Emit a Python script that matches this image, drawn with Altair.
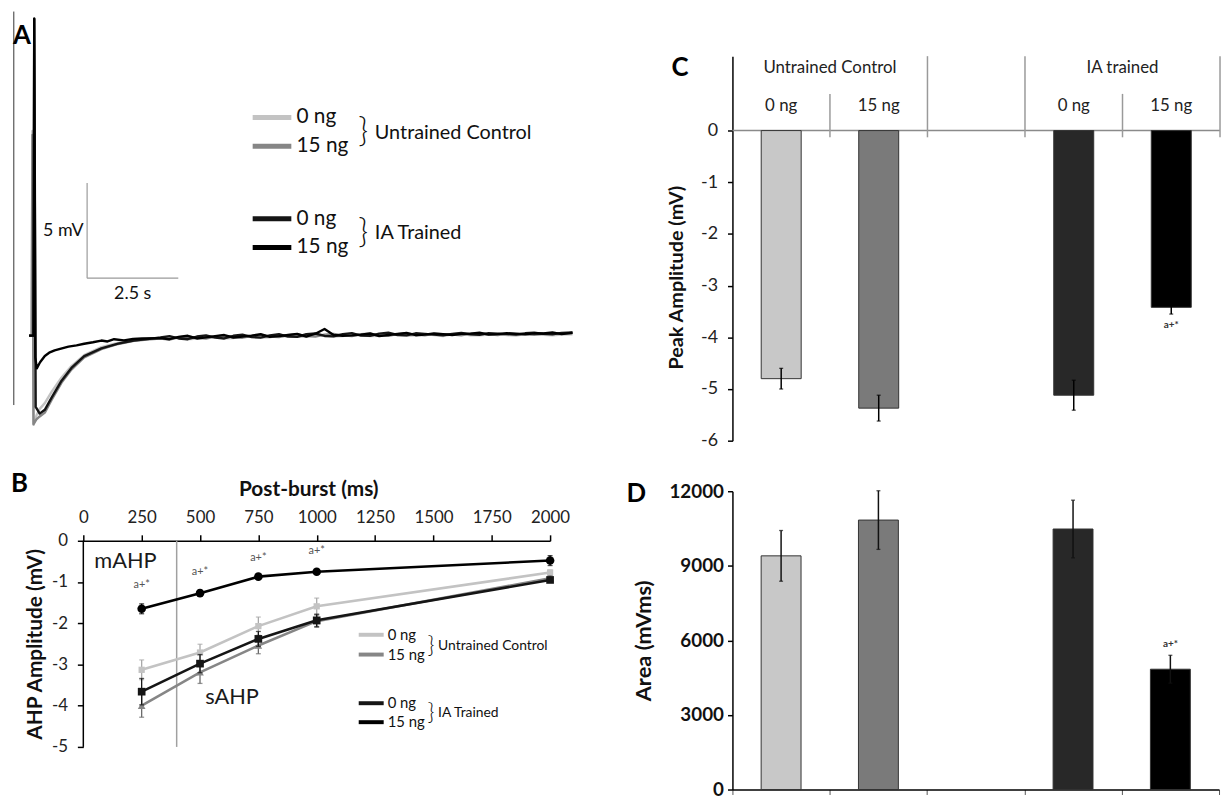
import altair as alt
import pandas as pd

FONT = "Lato"

# ---------------- Panel A : AHP voltage traces ----------------
TRACE_NAMES = ["Untrained 0 ng", "Untrained 15 ng", "IA 0 ng", "IA 15 ng"]
TRACE_COLORS = ["#c3c3c3", "#868686", "#151515", "#000000"]

UC_T = [-0.10, -0.03, -0.01, 0.02, 0.10, 0.19, 0.33, 0.52, 0.79, 1.06, 1.41, 1.88, 2.34, 2.77, 3.20]
UC0_V = [-0.05, -0.05, 10.7, -4.74, -4.25, -3.90, -3.60, -3.00, -2.25, -1.65, -1.08, -0.66, -0.44, -0.30, -0.21]
UC15_V = [-0.05, -0.05, 10.5, -4.70, -4.45, -4.30, -4.10, -3.42, -2.52, -1.84, -1.20, -0.76, -0.49, -0.33, -0.24]
IA0_T = [-0.10, 0.02, 0.04, 0.08, 0.19, 0.33, 0.52, 0.79, 1.06, 1.41, 1.88, 2.34, 2.77, 3.20]
IA0_V = [-0.05, -0.05, 16.6, -3.80, -4.15, -3.95, -3.30, -2.42, -1.75, -1.13, -0.72, -0.47, -0.31, -0.22]
IA15_T = [-0.10, 0.02, 0.04, 0.07, 0.11, 0.20, 0.33, 0.45, 0.60, 0.80, 0.98, 1.20, 1.41, 1.65, 1.88, 2.05, 2.23, 2.50, 2.75, 3.00]
IA15_V = [-0.05, -0.05, 16.6, -1.20, -1.77, -1.45, -1.12, -0.95, -0.83, -0.72, -0.63, -0.56, -0.48, -0.40, -0.31, -0.36, -0.24, -0.30, -0.22, -0.20]

TAIL_T = [3.5, 3.75, 4.0, 4.25, 4.5, 4.75, 5.0, 5.25, 5.5, 5.75, 6.0, 6.25, 6.5, 6.75, 7.0, 7.25,
          7.5, 7.75, 8.0, 8.25, 8.5, 8.75, 9.0, 9.25, 9.5, 9.75, 10.0, 10.25, 10.5, 10.75, 11.0,
          11.25, 11.5, 11.75, 12.0, 12.25, 12.5, 12.75, 13.0, 13.25, 13.5, 13.75, 14.0, 14.25, 14.5, 14.8]
UC0_TAIL = [-0.22, -0.14, -0.16, -0.24, -0.20, -0.10, -0.12, -0.20, -0.18, -0.06, -0.08, -0.15,
            -0.14, -0.02, -0.06, -0.12, -0.10, 0.00, -0.03, -0.10, -0.08, 0.02, -0.02, -0.08,
            -0.06, 0.04, 0.00, -0.06, -0.04, 0.03, -0.02, -0.07, 0.02, 0.05, -0.03, -0.04,
            0.00, 0.04, -0.02, -0.05, 0.03, 0.02, -0.01, -0.04, 0.01, 0.02]
UC15_TAIL = [-0.20, -0.26, -0.14, -0.10, -0.17, -0.21, -0.10, -0.05, -0.14, -0.16, -0.07, -0.02,
             -0.10, -0.13, -0.03, 0.02, -0.08, -0.10, 0.00, 0.04, -0.04, -0.08, 0.02, 0.05,
             -0.03, -0.06, 0.03, 0.07, 0.00, -0.04, 0.04, 0.02, 0.00, -0.03, 0.05, 0.08,
             0.02, -0.02, 0.05, 0.03, 0.03, -0.01, 0.06, 0.08, 0.04, 0.08]
IA0_TAIL = [-0.15, -0.08, -0.20, -0.24, -0.10, -0.04, -0.16, -0.20, -0.06, 0.00, -0.13, -0.16,
            -0.04, 0.02, -0.10, -0.12, 0.02, 0.06, -0.07, -0.09, 0.03, 0.08, -0.05, -0.06,
            0.05, 0.10, -0.02, -0.04, 0.07, 0.04, 0.00, -0.03, 0.04, 0.09, 0.02, -0.01,
            0.08, 0.05, 0.03, 0.00, 0.07, 0.10, 0.04, 0.02, 0.09, 0.12]
IA15_TAIL = [-0.18, -0.24, -0.12, -0.06, -0.20, -0.14, -0.08, -0.02, -0.15, -0.10, -0.05, 0.02,
             -0.12, -0.08, -0.02, 0.04, -0.10, 0.05, 0.30, -0.02, -0.06, -0.04, 0.00, 0.06,
             -0.08, -0.02, 0.04, 0.09, -0.03, 0.00, 0.06, 0.03, -0.02, 0.04, 0.05, 0.10,
             0.00, 0.03, 0.08, 0.05, 0.02, 0.07, 0.06, 0.12, 0.03, 0.10]

A_T_DOMAIN = [1.386, 14.158]   # seconds
A_V_DOMAIN = [-5.573, 14.635]  # mV relative to rest

FRAME_T = [-0.52]
FRAME_V1 = [16.98]
FRAME_V2 = [-3.70]

SB_T0, SB_V0, SB_DT, SB_DV = 1.49, 2.97, 2.5, 5.0

A_LEG_LABELS = ["0 ng", "15 ng", "0 ng", "15 ng"]
A_LEG_V = [11.41, 9.90, 6.09, 4.58]
A_LEG_T1, A_LEG_T2, A_LEG_TXT = 6.03, 7.09, 7.23
A_GROUPS = ["Untrained Control", "IA Trained"]
A_GROUP_V = [10.62, 5.36]
A_BRACE_T, A_GROUP_T = 9.06, 9.38


def trace_df(name, t_head, v_head, v_tail):
    t = list(t_head) + TAIL_T
    v = list(v_head) + v_tail
    return pd.DataFrame({"series": name, "t": t, "v": v, "k": list(range(len(t)))})


traces = [
    (trace_df(TRACE_NAMES[0], UC_T, UC0_V, UC0_TAIL), TRACE_COLORS[0]),
    (trace_df(TRACE_NAMES[1], UC_T, UC15_V, UC15_TAIL), TRACE_COLORS[1]),
    (trace_df(TRACE_NAMES[2], IA0_T, IA0_V, IA0_TAIL), TRACE_COLORS[2]),
    (trace_df(TRACE_NAMES[3], IA15_T, IA15_V, IA15_TAIL), TRACE_COLORS[3]),
]

xA = alt.Scale(domain=A_T_DOMAIN, nice=False, zero=False)
yA = alt.Scale(domain=A_V_DOMAIN, nice=False, zero=False)


def XA(f):
    return alt.X(f, type="quantitative", scale=xA, axis=None)


def YA(f):
    return alt.Y(f, type="quantitative", scale=yA, axis=None)


a_layers = []
a_layers.append(
    alt.Chart(pd.DataFrame({"t": FRAME_T, "v1": FRAME_V1, "v2": FRAME_V2}))
    .mark_rule(color="#333333", strokeWidth=1)
    .encode(x=XA("t"), y=YA("v1"), y2="v2:Q")
)
for df, col in traces:
    a_layers.append(
        alt.Chart(df).mark_line(color=col, strokeWidth=2.4, strokeJoin="round")
        .encode(x=XA("t"), y=YA("v"), order="k:Q")
    )
sb = pd.DataFrame({"t": [SB_T0], "t2": [SB_T0 + SB_DT], "v": [SB_V0], "v2": [SB_V0 + SB_DV]})
a_layers.append(
    alt.Chart(sb).mark_rule(color="#9a9a9a", strokeWidth=1.2).encode(x=XA("t"), y=YA("v"), y2="v2:Q")
)
a_layers.append(
    alt.Chart(sb).mark_rule(color="#9a9a9a", strokeWidth=1.2).encode(x=XA("t"), x2="t2:Q", y=YA("v"))
)
sb_txt = pd.DataFrame({"t": [SB_T0 - 0.1, SB_T0 + SB_DT / 2], "v": [SB_V0 + SB_DV / 2, SB_V0 - 0.85],
                       "label": ["5 mV", "2.5 s"]})
a_layers.append(
    alt.Chart(sb_txt.iloc[[0]]).mark_text(font=FONT, fontSize=18, align="right", baseline="middle", color="#111")
    .encode(x=XA("t"), y=YA("v"), text="label:N")
)
a_layers.append(
    alt.Chart(sb_txt.iloc[[1]]).mark_text(font=FONT, fontSize=18, align="center", baseline="middle", color="#111")
    .encode(x=XA("t"), y=YA("v"), text="label:N")
)
a_leg = pd.DataFrame({"t1": A_LEG_T1, "t2": A_LEG_T2, "tt": A_LEG_TXT, "v": A_LEG_V,
                      "label": A_LEG_LABELS, "col": TRACE_COLORS})
a_layers.append(
    alt.Chart(a_leg).mark_rule(strokeWidth=5)
    .encode(x=XA("t1"), x2="t2:Q", y=YA("v"), color=alt.Color("col:N", scale=None))
)
a_layers.append(
    alt.Chart(a_leg).mark_text(font=FONT, fontSize=21, align="left", baseline="middle", color="#111")
    .encode(x=XA("tt"), y=YA("v"), text="label:N")
)
a_grp = pd.DataFrame({"tb": A_BRACE_T, "tg": A_GROUP_T, "v": A_GROUP_V, "label": A_GROUPS})
a_layers.append(
    alt.Chart(a_grp).mark_text(font=FONT, fontSize=34, fontWeight=300, align="center", baseline="middle", color="#111")
    .encode(x=XA("tb"), y=YA("v"), text=alt.value("}"))
)
a_layers.append(
    alt.Chart(a_grp).mark_text(font=FONT, fontSize=20, align="left", baseline="middle", color="#111")
    .encode(x=XA("tg"), y=YA("v"), text="label:N")
)
a_layers.append(
    alt.Chart(pd.DataFrame({"t": [-0.30], "v": [15.68], "label": ["A"]}))
    .mark_text(font=FONT, fontSize=26, fontWeight="bold", align="center", baseline="middle", color="#000")
    .encode(x=XA("t"), y=YA("v"), text="label:N")
)
panelA = alt.layer(*a_layers).properties(width=470, height=388)

# ---------------- Panel B : AHP amplitude vs post-burst time ----------------
B_MS = [250, 500, 750, 1000, 2000]
B_UC0 = [-3.13, -2.71, -2.07, -1.59, -0.77]
B_UC0_ERR = [0.24, 0.20, 0.22, 0.20, 0.06]
B_UC15 = [-4.00, -3.19, -2.54, -1.95, -0.91]
B_UC15_ERR = [0.28, 0.27, 0.20, 0.15, 0.06]
B_IA0 = [-3.66, -2.98, -2.38, -1.93, -0.95]
B_IA0_ERR = [0.32, 0.22, 0.18, 0.15, 0.06]
B_IA15 = [-1.65, -1.27, -0.87, -0.75, -0.48]
B_IA15_ERR = [0.12, 0.07, 0.05, 0.04, 0.12]
B_SHAPES = ["square", "triangle-up", "square", "circle"]
B_SIZES = [40, 60, 60, 75]
B_ERR_COLORS = ["#a8a8a8", "#6a6a6a", "#151515", "#000000"]
B_X_TICKS = [0, 250, 500, 750, 1000, 1250, 1500, 1750, 2000]
B_Y_TICKS = [-5, -4, -3, -2, -1, 0]
B_Y_TOP = 1.202
B_DIVIDER_MS = 400
B_SIG_MS = [250, 500, 750, 1000]
B_SIG_V = [-1.08, -0.75, -0.43, -0.26]

xB = alt.Scale(domain=[0, 2000], nice=False, zero=False)
yB = alt.Scale(domain=[-5, B_Y_TOP], nice=False, zero=False)
axXB = alt.Axis(orient="top", offset=-50, values=B_X_TICKS, labelExpr="'' + datum.value", labelOverlap=False,
                labelFlush=False, title="Post-burst (ms)", titleFont=FONT, titleFontSize=21,
                titleFontWeight="bold", titleColor="#111", titleX=227, titlePadding=10, labelFont=FONT,
                labelFontSize=17, labelColor="#222", labelPadding=8, tickSize=6, tickWidth=1.5,
                tickColor="#000", domainColor="#000", domainWidth=1.5, grid=False)
axYB = alt.Axis(values=B_Y_TICKS, labelExpr="'' + datum.value", title="AHP Amplitude (mV)", titleY=154,
                titleFont=FONT, titleFontSize=21, titleFontWeight="bold", titleColor="#111", titlePadding=6,
                labelFont=FONT, labelFontSize=17, labelColor="#222", labelPadding=10, domain=False,
                tickSize=6, tickWidth=1.5, tickColor="#000", grid=False)


def XB(f):
    return alt.X(f, type="quantitative", scale=xB, axis=axXB)


def YB(f):
    return alt.Y(f, type="quantitative", scale=yB, axis=axYB)


b_layers = []
b_layers.append(
    alt.Chart(pd.DataFrame({"ms": [0], "v1": [0], "v2": [-5]}))
    .mark_rule(color="#000", strokeWidth=1.5).encode(x=XB("ms"), y=YB("v1"), y2="v2:Q")
)
b_layers.append(
    alt.Chart(pd.DataFrame({"ms": [B_DIVIDER_MS], "v1": [0], "v2": [-5]}))
    .mark_rule(color="#a0a0a0", strokeWidth=1.5).encode(x=XB("ms"), y=YB("v1"), y2="v2:Q")
)
b_series = [(B_UC0, B_UC0_ERR), (B_UC15, B_UC15_ERR), (B_IA0, B_IA0_ERR), (B_IA15, B_IA15_ERR)]
for i, (vals, errs) in enumerate(b_series):
    df = pd.DataFrame({"ms": B_MS, "v": vals, "lo": [a - e for a, e in zip(vals, errs)],
                       "hi": [a + e for a, e in zip(vals, errs)]})
    ch = alt.Chart(df)
    b_layers.append(ch.mark_rule(color=B_ERR_COLORS[i], strokeWidth=1.3)
                    .encode(x=XB("ms"), y=YB("lo"), y2="hi:Q"))
    for f in ["lo", "hi"]:
        b_layers.append(ch.mark_tick(color=B_ERR_COLORS[i], orient="horizontal", size=5, thickness=1.3)
                        .encode(x=XB("ms"), y=YB(f)))
    b_layers.append(ch.mark_line(color=TRACE_COLORS[i], strokeWidth=2.6).encode(x=XB("ms"), y=YB("v")))
    b_layers.append(ch.mark_point(color=TRACE_COLORS[i], filled=True, opacity=1, shape=B_SHAPES[i], size=B_SIZES[i])
                    .encode(x=XB("ms"), y=YB("v")))

b_sig = pd.DataFrame({"ms": B_SIG_MS, "v": B_SIG_V, "label": ["a+*"] * 4})
b_layers.append(
    alt.Chart(b_sig).mark_text(font=FONT, fontSize=11, color="#555", align="center", baseline="middle")
    .encode(x=XB("ms"), y=YB("v"), text="label:N")
)
b_notes = pd.DataFrame({"ms": [47, 522], "v": [-0.50, -3.80], "label": ["mAHP", "sAHP"]})
b_layers.append(
    alt.Chart(b_notes).mark_text(font=FONT, fontSize=22, color="#1a1a1a", align="left", baseline="middle")
    .encode(x=XB("ms"), y=YB("v"), text="label:N")
)
B_LEG_V = [-2.28, -2.76, -3.94, -4.40]
b_leg = pd.DataFrame({"m1": 1180, "m2": 1287, "mt": 1304, "v": B_LEG_V, "label": A_LEG_LABELS,
                      "col": TRACE_COLORS})
b_layers.append(
    alt.Chart(b_leg).mark_rule(strokeWidth=4)
    .encode(x=XB("m1"), x2="m2:Q", y=YB("v"), color=alt.Color("col:N", scale=None))
)
b_layers.append(
    alt.Chart(b_leg).mark_text(font=FONT, fontSize=15, align="left", baseline="middle", color="#111")
    .encode(x=XB("mt"), y=YB("v"), text="label:N")
)
b_grp = pd.DataFrame({"mb": 1490, "mg": 1520, "v": [-2.55, -4.17], "label": ["Untrained Control", "IA Trained"]})
b_layers.append(
    alt.Chart(b_grp).mark_text(font=FONT, fontSize=24, fontWeight=300, align="center", baseline="middle", color="#111")
    .encode(x=XB("mb"), y=YB("v"), text=alt.value("}"))
)
b_layers.append(
    alt.Chart(b_grp).mark_text(font=FONT, fontSize=14, align="left", baseline="middle", color="#111")
    .encode(x=XB("mg"), y=YB("v"), text="label:N")
)
b_layers.append(
    alt.Chart(pd.DataFrame({"ms": [-274], "v": [1.37], "label": ["B"]}))
    .mark_text(font=FONT, fontSize=26, fontWeight="bold", align="center", baseline="middle", color="#000")
    .encode(x=XB("ms"), y=YB("v"), text="label:N")
)
panelB = alt.layer(*b_layers).properties(width=471, height=258)

# ---------------- Panels C and D : bar charts ----------------
SLOTS = ["UC0", "UC15", "gap", "IA0", "IA15"]
BAR_SLOTS = ["UC0", "UC15", "IA0", "IA15"]
BAR_COLORS = ["#c8c8c8", "#7a7a7a", "#282828", "#000000"]
DOSE_LABELS = ["0 ng", "15 ng", "0 ng", "15 ng"]

PEAK = [-4.80, -5.37, -5.12, -3.42]
PEAK_ERR = [0.20, 0.25, 0.29, 0.13]
AREA = [9400, 10840, 10480, 4840]
AREA_ERR = [1020, 1180, 1160, 560]

C_TOP = 1.44
C_Y_TICKS = [-6, -5, -4, -3, -2, -1, 0]
D_Y_TICKS = [0, 3000, 6000, 9000, 12000]

xC = alt.Scale(domain=SLOTS, paddingInner=0, paddingOuter=0)
yC = alt.Scale(domain=[-6, C_TOP], nice=False, zero=False)
axYC = alt.Axis(values=C_Y_TICKS, labelExpr="'' + datum.value", title="Peak Amplitude (mV)", titleY=223,
                titleFont=FONT, titleFontSize=20, titleFontWeight="bold", titleColor="#111", titlePadding=14,
                labelFont=FONT, labelFontSize=18, labelColor="#222", labelPadding=10,
                tickSize=5, tickWidth=1.5, tickColor="#000", domainColor="#000", domainWidth=1.5, grid=False)

c_bars = pd.DataFrame({"slot": BAR_SLOTS, "val": PEAK, "col": BAR_COLORS, "dose": DOSE_LABELS,
                       "lo": [a - e for a, e in zip(PEAK, PEAK_ERR)],
                       "hi": [a + e for a, e in zip(PEAK, PEAK_ERR)]})

c_layers = []
c_layers.append(
    alt.Chart(pd.DataFrame({"z": [0]})).mark_rule(color="#8a8a8a", strokeWidth=1.5)
    .encode(y=alt.Y("z:Q", scale=yC, axis=axYC))
)
c_div = pd.DataFrame({"slot": ["UC15", "gap", "IA0", "IA15"], "top": [0.71, C_TOP, C_TOP, 0.71], "bot": -0.13})
c_layers.append(
    alt.Chart(c_div).mark_rule(color="#9a9a9a", strokeWidth=1.5)
    .encode(x=alt.X("slot:N", scale=xC, axis=None, bandPosition=0), y=alt.Y("top:Q", scale=yC, axis=axYC), y2="bot:Q")
)
c_layers.append(
    alt.Chart(pd.DataFrame({"slot": ["IA15"], "top": [C_TOP], "bot": [-0.13]})).mark_rule(color="#9a9a9a", strokeWidth=1.5)
    .encode(x=alt.X("slot:N", scale=xC, axis=None, bandPosition=1), y=alt.Y("top:Q", scale=yC, axis=axYC), y2="bot:Q")
)
c_layers.append(
    alt.Chart(c_bars).mark_bar(width={"band": 0.41}, stroke="#333333", strokeWidth=1)
    .encode(x=alt.X("slot:N", scale=xC, axis=None), y=alt.Y("val:Q", scale=yC, axis=axYC), y2=alt.datum(0),
            color=alt.Color("col:N", scale=None))
)
c_layers.append(
    alt.Chart(c_bars).mark_rule(color="#000", strokeWidth=1.5)
    .encode(x=alt.X("slot:N", scale=xC, axis=None), y=alt.Y("lo:Q", scale=yC, axis=axYC), y2="hi:Q")
)
for f in ["lo", "hi"]:
    c_layers.append(
        alt.Chart(c_bars).mark_tick(color="#000", size=4, thickness=1.3)
        .encode(x=alt.X("slot:N", scale=xC, axis=None), y=alt.Y(f + ":Q", scale=yC, axis=axYC))
    )
c_layers.append(
    alt.Chart(c_bars).mark_text(font=FONT, fontSize=17, color="#222", align="center", baseline="middle")
    .encode(x=alt.X("slot:N", scale=xC, axis=None), y=alt.Y("dv:Q", scale=yC, axis=axYC), text="dose:N")
    .transform_calculate(dv="0.48")
)
c_hdr = pd.DataFrame({"slot": ["UC15", "IA15"], "v": [1.21, 1.21], "label": ["Untrained Control", "IA trained"]})
c_layers.append(
    alt.Chart(c_hdr).mark_text(font=FONT, fontSize=17, color="#222", align="center", baseline="middle")
    .encode(x=alt.X("slot:N", scale=xC, axis=None, bandPosition=0), y=alt.Y("v:Q", scale=yC, axis=axYC), text="label:N")
)
c_layers.append(
    alt.Chart(pd.DataFrame({"slot": ["IA15"], "v": [-3.76], "label": ["a+*"]}))
    .mark_text(font=FONT, fontSize=10, fontWeight="bold", color="#333", align="center", baseline="middle")
    .encode(x=alt.X("slot:N", scale=xC, axis=None), y=alt.Y("v:Q", scale=yC, axis=axYC), text="label:N")
)
c_layers.append(
    alt.Chart(pd.DataFrame({"label": ["C"]}))
    .mark_text(font=FONT, fontSize=26, fontWeight="bold", color="#000", align="center", baseline="middle")
    .encode(x=alt.value(-53), y=alt.value(12), text="label:N")
)
panelC = alt.layer(*c_layers).properties(width=492, height=388)

xD = alt.Scale(domain=SLOTS, paddingInner=0, paddingOuter=0)
yD = alt.Scale(domain=[0, 12000], nice=False, zero=True)
axXD = alt.Axis(labels=False, title=None, tickBand="extent", tickSize=5, tickWidth=1, tickColor="#555",
                domainColor="#000", domainWidth=1.5, grid=False)
axYD = alt.Axis(values=D_Y_TICKS, title="Area (mVms)", titleFont=FONT, titleFontSize=22, titleFontWeight="bold",
                titleColor="#111", titlePadding=14, labelFont=FONT, labelFontSize=19, labelFontWeight="bold",
                labelColor="#111", labelPadding=4, tickSize=5, tickWidth=1.5, tickColor="#000",
                domainColor="#000", domainWidth=1.5, grid=False, format="d")

d_bars = pd.DataFrame({"slot": BAR_SLOTS, "val": AREA, "col": BAR_COLORS,
                       "lo": [a - e for a, e in zip(AREA, AREA_ERR)],
                       "hi": [a + e for a, e in zip(AREA, AREA_ERR)]})
d_layers = []
d_layers.append(
    alt.Chart(d_bars).mark_bar(width={"band": 0.41}, stroke="#333333", strokeWidth=1)
    .encode(x=alt.X("slot:N", scale=xD, axis=axXD), y=alt.Y("val:Q", scale=yD, axis=axYD),
            color=alt.Color("col:N", scale=None))
)
d_layers.append(
    alt.Chart(d_bars).mark_rule(color="#111", strokeWidth=1.5)
    .encode(x=alt.X("slot:N", scale=xD, axis=axXD), y=alt.Y("lo:Q", scale=yD, axis=axYD), y2="hi:Q")
)
for f in ["lo", "hi"]:
    d_layers.append(
        alt.Chart(d_bars).mark_tick(color="#111", size=4, thickness=1.3)
        .encode(x=alt.X("slot:N", scale=xD, axis=axXD), y=alt.Y(f + ":Q", scale=yD, axis=axYD))
    )
d_layers.append(
    alt.Chart(pd.DataFrame({"slot": ["IA15"], "v": [5840], "label": ["a+*"]}))
    .mark_text(font=FONT, fontSize=10, fontWeight="bold", color="#333", align="center", baseline="middle")
    .encode(x=alt.X("slot:N", scale=xD, axis=axXD), y=alt.Y("v:Q", scale=yD, axis=axYD), text="label:N")
)
d_layers.append(
    alt.Chart(pd.DataFrame({"label": ["D"]}))
    .mark_text(font=FONT, fontSize=26, fontWeight="bold", color="#000", align="center", baseline="middle")
    .encode(x=alt.value(-97), y=alt.value(3), text="label:N")
)
panelD = alt.layer(*d_layers).properties(width=491, height=301)

chart = (
    alt.concat(panelA, panelC, panelB, panelD, columns=2, spacing={"row": 51, "column": 184},
               align="none", bounds="flush")
    .properties(padding={"left": 2, "top": -2, "right": 0, "bottom": 0})
    .configure(font=FONT)
    .configure_view(stroke="transparent")
)

chart.save("out.html", embed_options={"renderer": "svg", "actions": False})
